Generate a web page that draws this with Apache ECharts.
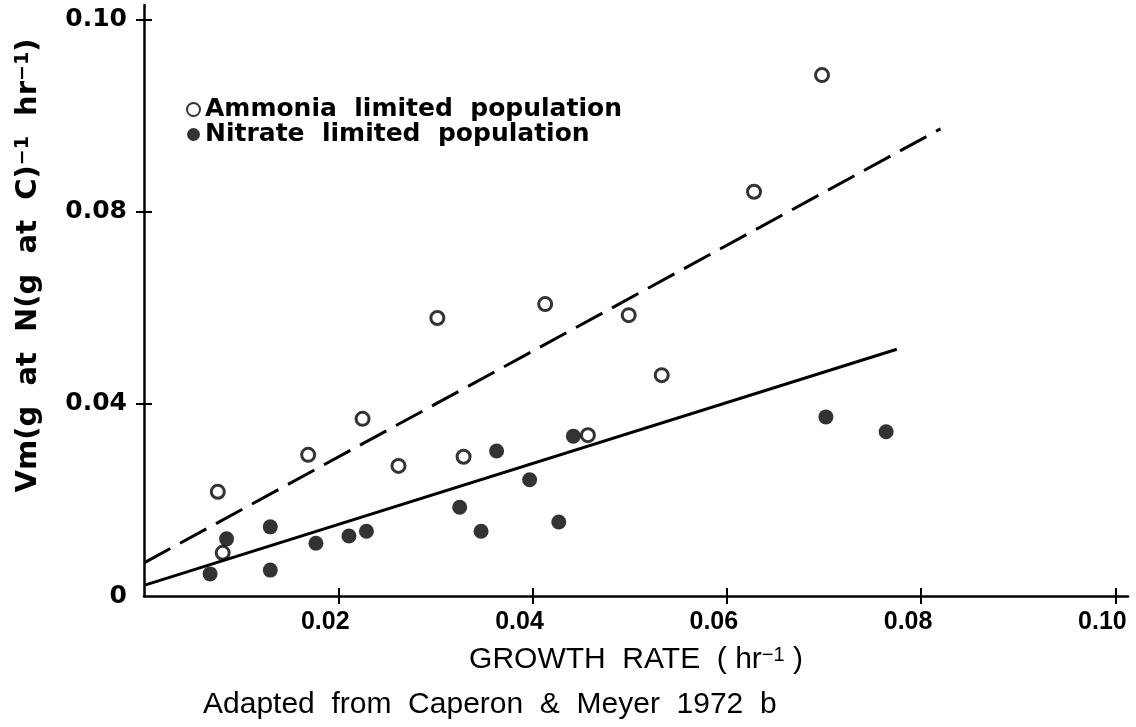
<!DOCTYPE html>
<html>
<head>
<meta charset="utf-8">
<script src="https://cdn.jsdelivr.net/npm/echarts@6/dist/echarts.min.js"></script>
<style>
  html, body { margin: 0; padding: 0; background: #fff; }
  #chart { width: 1136px; height: 727px; }
</style>
</head>
<body>
<div id="chart"></div>
<script>
// ---- data (plotted scale) ----
const xTickValues = [0.02, 0.04, 0.06, 0.08, 0.10];
const xTickLabels = ['0.02', '0.04', '0.06', '0.08', '0.10'];
const yTickValues = [0, 0.04, 0.08, 0.12];
const yTickLabels = ['0', '0.04', '0.08', '0.10'];

const ammoniaName = 'Ammonia  limited  population';
const nitrateName = 'Nitrate  limited  population';

const ammonia = [
  [0.0076, 0.0217], [0.0081, 0.0090], [0.0169, 0.0294], [0.0225, 0.0369],
  [0.0262, 0.0271], [0.0302, 0.0579], [0.0329, 0.0290], [0.0413, 0.0608],
  [0.0457, 0.0335], [0.0499, 0.0585], [0.0533, 0.0460], [0.0628, 0.0842],
  [0.0698, 0.1085]
];
const nitrate = [
  [0.0068, 0.0046], [0.0085, 0.0119], [0.0130, 0.0144], [0.0130, 0.0054],
  [0.0177, 0.0110], [0.0211, 0.0125], [0.0229, 0.0135], [0.0325, 0.0185],
  [0.0347, 0.0135], [0.0363, 0.0302], [0.0397, 0.0242], [0.0427, 0.0154],
  [0.0442, 0.0333], [0.0702, 0.0373], [0.0764, 0.0342]
];
const ammoniaFit = [[0, 0.0069], [0.0820, 0.0973]];
const nitrateFit = [[0, 0.0022], [0.0775, 0.0514]];

const X_MIN = 0, X_MAX = 0.1013, Y_MIN = 0, Y_MAX = 0.1231;

function labelFor(values, labels) {
  return function (v) {
    let best = -1, bd = Infinity;
    values.forEach(function (t, i) { const d = Math.abs(t - v); if (d < bd) { bd = d; best = i; } });
    return bd < 1e-6 ? labels[best] : '';
  };
}

const chart = echarts.init(document.getElementById('chart'), null, { renderer: 'canvas' });

chart.setOption({
  animation: false,
  backgroundColor: '#fff',
  title: {
    text: 'Adapted  from  Caperon  &  Meyer  1972  b',
    left: 203, top: 690, padding: 0,
    textStyle: { fontFamily: 'Liberation Sans', fontWeight: 'normal', fontSize: 30, color: '#000' }
  },
  legend: {
    data: [ammoniaName, nitrateName],
    orient: 'vertical', left: 186, top: 97, padding: 0, itemGap: 0,
    itemWidth: 13, itemHeight: 13,
    textStyle: { fontFamily: 'DejaVu Sans', fontWeight: 'bold', fontSize: 25, lineHeight: 25, color: '#000' }
  },
  grid: { left: 144, right: 8, top: 5, bottom: 131, containLabel: false, outerBoundsMode: 'none' },
  xAxis: [
    {
      type: 'value', min: X_MIN, max: X_MAX, position: 'bottom',
      splitLine: { show: false },
      axisLine: { show: true, onZero: false, lineStyle: { color: '#000', width: 2.5 } },
      axisTick: { show: true, customValues: xTickValues, length: 8, lineStyle: { color: '#000', width: 2 } },
      axisLabel: {
        customValues: xTickValues, formatter: labelFor(xTickValues, xTickLabels),
        margin: 14, padding: [0, 26, 0, 0],
        fontFamily: 'Liberation Sans', fontWeight: 'bold', fontSize: 25, lineHeight: 25, color: '#000'
      },
      name: 'GROWTH  RATE  ( hr{sup|−1} )',
      nameLocation: 'middle', nameGap: 49,
      nameTextStyle: {
        fontFamily: 'Liberation Sans', fontSize: 30, color: '#000',
        rich: { sup: { fontFamily: 'Liberation Sans', fontSize: 20, verticalAlign: 'top', color: '#000' } }
      }
    },
    {
      type: 'value', min: X_MIN, max: X_MAX, position: 'bottom',
      splitLine: { show: false },
      axisLine: { show: false },
      axisTick: { show: true, inside: true, customValues: xTickValues, length: 8, lineStyle: { color: '#000', width: 2 } },
      axisLabel: { show: false }
    }
  ],
  yAxis: [
    {
      type: 'value', min: Y_MIN, max: Y_MAX, position: 'left',
      splitLine: { show: false },
      axisLine: { show: true, onZero: false, lineStyle: { color: '#000', width: 2.5 } },
      axisTick: { show: true, customValues: [0.04, 0.08, 0.12], length: 8, lineStyle: { color: '#000', width: 2 } },
      axisLabel: {
        customValues: yTickValues, formatter: labelFor(yTickValues, yTickLabels),
        margin: 17,
        fontFamily: 'DejaVu Sans', fontWeight: 'bold', fontSize: 25, color: '#000'
      },
      name: 'Vm(g  at  N(g  at  C){sup|−1}  hr{sup|−1})',
      nameLocation: 'middle', nameGap: 101, nameRotate: 90,
      nameTextStyle: {
        fontFamily: 'DejaVu Sans', fontWeight: 'bold', fontSize: 29, color: '#000',
        padding: [0, 0, 0, 70],
        rich: { sup: { fontSize: 19, fontWeight: 'bold', fontFamily: 'DejaVu Sans', verticalAlign: 'top', color: '#000' } }
      }
    },
    {
      type: 'value', min: Y_MIN, max: Y_MAX, position: 'left',
      splitLine: { show: false },
      axisLine: { show: false },
      axisTick: { show: true, inside: true, customValues: [0.04, 0.08, 0.12], length: 8, lineStyle: { color: '#000', width: 2 } },
      axisLabel: { show: false }
    }
  ],
  series: [
    {
      name: 'Ammonia fit', type: 'line', data: ammoniaFit, xAxisIndex: 0, yAxisIndex: 0,
      symbol: 'none', silent: true,
      lineStyle: { color: '#000', width: 3, type: [30, 11] }
    },
    {
      name: 'Nitrate fit', type: 'line', data: nitrateFit, xAxisIndex: 0, yAxisIndex: 0,
      symbol: 'none', silent: true,
      lineStyle: { color: '#000', width: 3, type: 'solid' }
    },
    {
      name: nitrateName, type: 'scatter', data: nitrate, xAxisIndex: 0, yAxisIndex: 0,
      symbol: 'circle', symbolSize: 15,
      itemStyle: { color: '#000' }
    },
    {
      name: ammoniaName, type: 'scatter', data: ammonia, xAxisIndex: 0, yAxisIndex: 0,
      symbol: 'circle', symbolSize: 13,
      itemStyle: { color: '#fff', borderColor: '#000', borderWidth: 3 }
    }
  ]
});
</script>
</body>
</html>
